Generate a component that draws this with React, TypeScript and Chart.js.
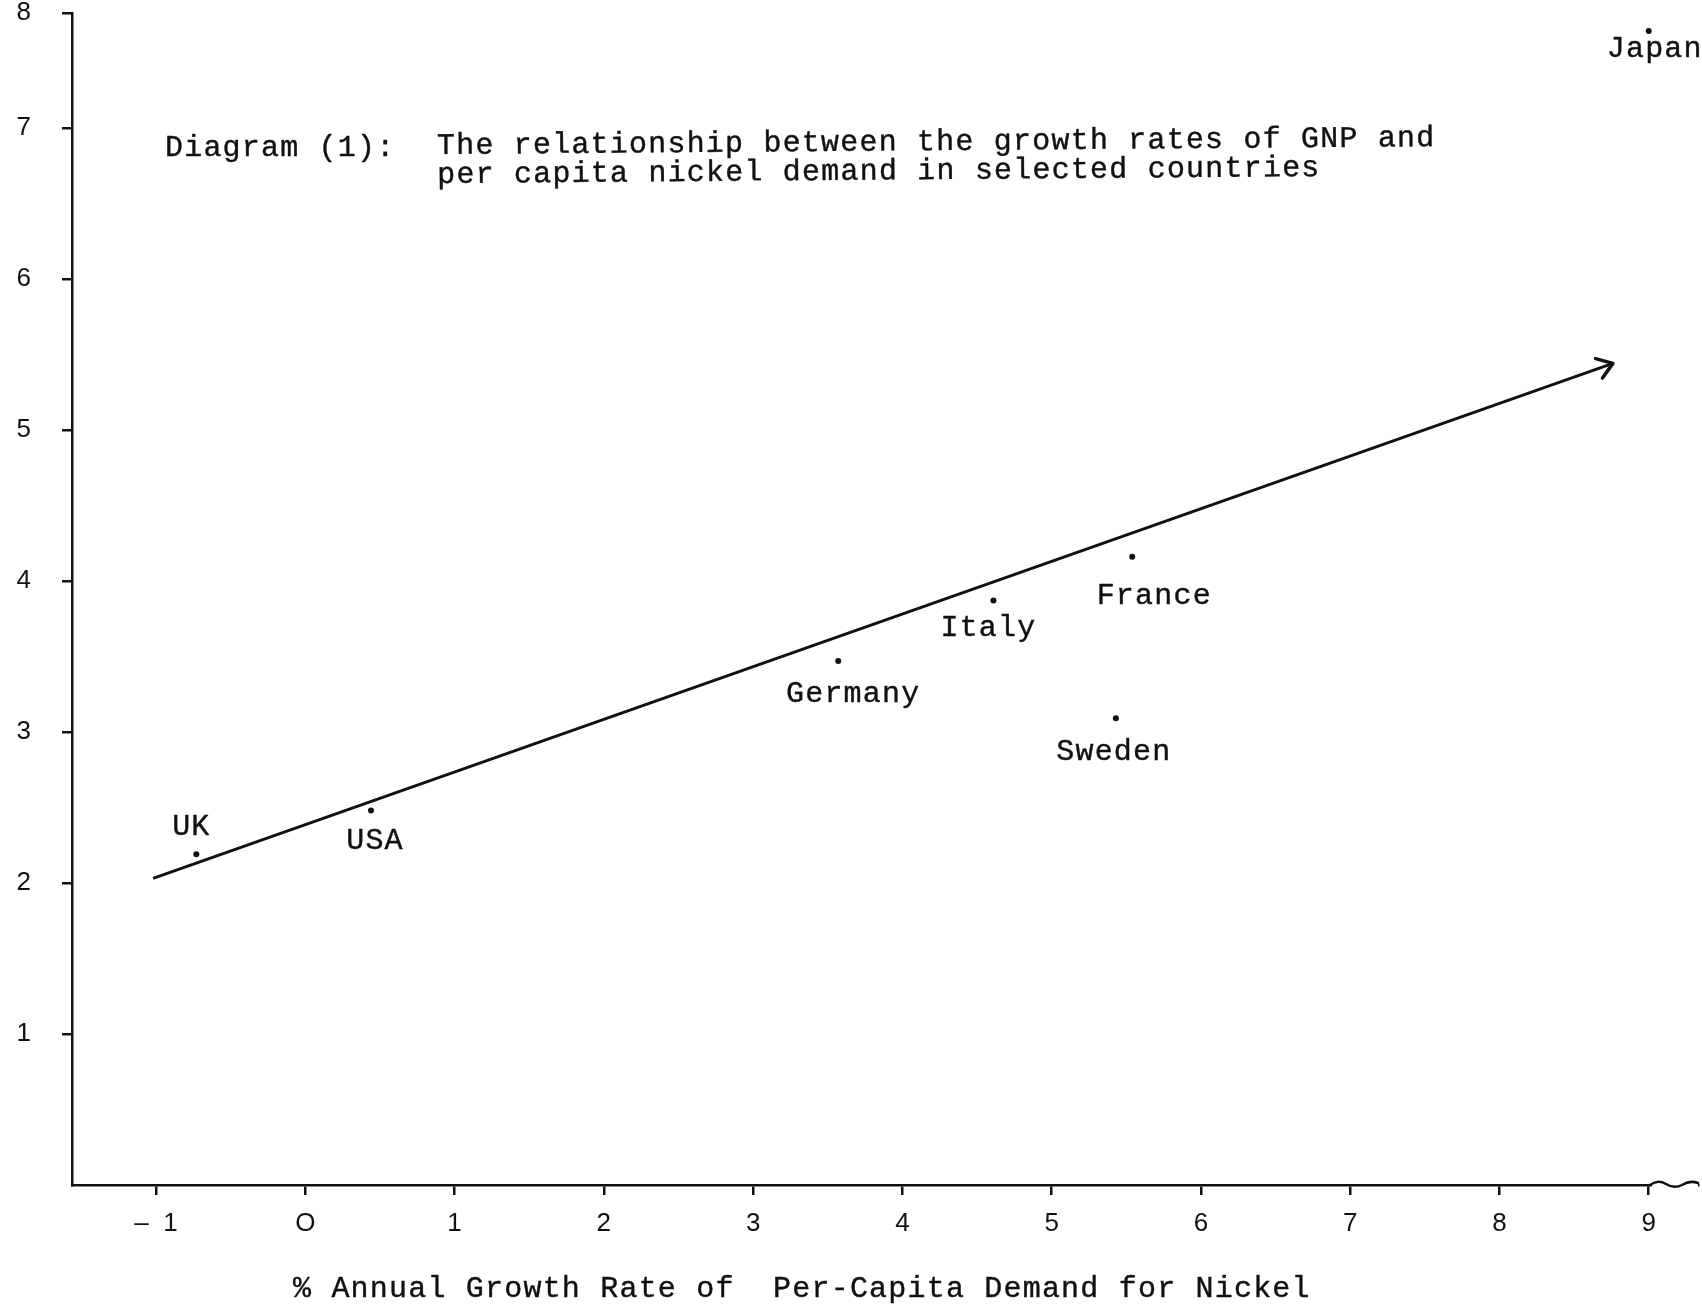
import React, { useEffect, useRef } from "react";
import { Chart, registerables } from "chart.js";

Chart.register(...registerables);

// ---------- data ----------
const countries = ["UK", "USA", "Germany", "Italy", "France", "Sweden", "Japan"];
const nickelGrowth = [-0.73, 0.44, 3.57, 4.61, 5.54, 5.43, 9.0];
const gnpGrowth = [2.19, 2.48, 3.47, 3.87, 4.16, 3.09, 7.64];

const trendX = [-1.02, 8.76];
const trendY = [2.03, 5.44];

const xTickValues = [-1, 0, 1, 2, 3, 4, 5, 6, 7, 8, 9];
const xTickLabels = ["–  1", "O", "1", "2", "3", "4", "5", "6", "7", "8", "9"];
const yTickValues = [1, 2, 3, 4, 5, 6, 7, 8];
const yTickLabels = ["1", "2", "3", "4", "5", "6", "7", "8"];

const titleLabel = "Diagram (1):";
const titleLines = [
  "The relationship between the growth rates of GNP and",
  "per capita nickel demand in selected countries",
];
const xAxisTitle = "% Annual Growth Rate of  Per-Capita Demand for Nickel";

// ---------- layout / style ----------
const X_MIN = -1.563;
const X_MAX = 9.33;
const Y_MIN = 0;
const Y_MAX = 7.76;
const MONO = "'Liberation Mono', 'DejaVu Sans Mono', monospace";
const SANS = "'Liberation Sans', Arial, sans-serif";
const INK = "#111";
// label offsets (pixels from the dot to the label's baseline centre)
const labelOffsets: [number, number][] = [
  [-5, -19],
  [4, 39],
  [15, 41],
  [-5, 35],
  [22, 47],
  [-2, 42],
  [6, 26],
];

function typeText(ctx: CanvasRenderingContext2D, text: string, x: number, y: number) {
  ctx.fillText(text, x, y);
  ctx.strokeText(text, x, y);
}

const annotate = {
  id: "annotate",
  afterDraw(chart: any) {
    const ctx: CanvasRenderingContext2D = chart.ctx;
    const xs = chart.scales.x;
    const ys = chart.scales.y;
    ctx.save();
    ctx.fillStyle = INK;
    ctx.strokeStyle = INK;
    ctx.font = `30px ${MONO}`;
    (ctx as any).letterSpacing = "1.2px";
    ctx.lineWidth = 0.4;
    ctx.lineJoin = "round";

    // country labels
    ctx.textAlign = "center";
    ctx.textBaseline = "alphabetic";
    countries.forEach((name, i) => {
      const px = xs.getPixelForValue(nickelGrowth[i]);
      const py = ys.getPixelForValue(gnpGrowth[i]);
      const [dx, dy] = labelOffsets[i];
      typeText(ctx, name, px + dx, py + dy);
    });

    // diagram title
    ctx.textAlign = "left";
    typeText(ctx, titleLabel, 165, 156);
    ctx.save();
    ctx.translate(437, 154);
    ctx.rotate((-0.45 * Math.PI) / 180);
    typeText(ctx, titleLines[0], 0, 0);
    typeText(ctx, titleLines[1], 0, 29);
    ctx.restore();

    // x axis title
    typeText(ctx, xAxisTitle, 293, 1297);

    // arrow head at the end of the trend line
    const x0 = xs.getPixelForValue(trendX[0]);
    const y0 = ys.getPixelForValue(trendY[0]);
    const x1 = xs.getPixelForValue(trendX[1]);
    const y1 = ys.getPixelForValue(trendY[1]);
    const back = Math.atan2(y0 - y1, x0 - x1);
    const arm = 18;
    const spread = (35 * Math.PI) / 180;
    ctx.lineWidth = 3.5;
    ctx.lineCap = "round";
    ctx.beginPath();
    ctx.moveTo(x1 + arm * Math.cos(back + spread), y1 + arm * Math.sin(back + spread));
    ctx.lineTo(x1, y1);
    ctx.lineTo(x1 + arm * Math.cos(back - spread), y1 + arm * Math.sin(back - spread));
    ctx.stroke();

    // wavy end of the x axis
    const ay = ys.bottom;
    const ax = xs.right;
    ctx.fillStyle = "#fff";
    ctx.fillRect(ax - 46, ay - 2, 46, 5);
    ctx.lineWidth = 2.5;
    ctx.beginPath();
    ctx.moveTo(ax - 48, ay);
    ctx.quadraticCurveTo(ax - 40, ay - 6, ax - 32, ay - 1);
    ctx.quadraticCurveTo(ax - 24, ay + 4, ax - 16, ay);
    ctx.quadraticCurveTo(ax - 8, ay - 5, ax, ay - 2);
    ctx.stroke();
    ctx.restore();
  },
};

export default function App() {
  const ref = useRef<HTMLCanvasElement | null>(null);

  useEffect(() => {
    if (!ref.current) return;
    const chart = new Chart(ref.current, {
      type: "scatter",
      data: {
        datasets: [
          {
            label: "Trend",
            data: trendX.map((x, i) => ({ x, y: trendY[i] })),
            showLine: true,
            borderColor: INK,
            borderWidth: 3,
            pointRadius: 0,
            fill: false,
          },
          {
            label: "Countries",
            data: nickelGrowth.map((x, i) => ({ x, y: gnpGrowth[i] })),
            pointRadius: 3,
            pointBackgroundColor: INK,
            pointBorderWidth: 0,
            borderColor: INK,
          },
        ],
      },
      options: {
        animation: false,
        responsive: true,
        maintainAspectRatio: false,
        layout: { padding: { top: 13, right: 4, left: 0, bottom: 0 } },
        plugins: { legend: { display: false }, tooltip: { enabled: false } },
        scales: {
          x: {
            type: "linear",
            min: X_MIN,
            max: X_MAX,
            afterBuildTicks: (scale: any) => {
              scale.ticks = xTickValues.map((v) => ({ value: v }));
            },
            afterFit: (scale: any) => {
              scale.height = 123;
              scale.paddingLeft = 0;
              scale.paddingRight = 0;
            },
            ticks: {
              autoSkip: false,
              maxRotation: 0,
              padding: 13,
              color: INK,
              font: { family: SANS, size: 26 },
              callback: (_v: any, i: number) => xTickLabels[i],
            },
            grid: {
              drawOnChartArea: false,
              drawTicks: true,
              tickLength: 10,
              color: INK,
              lineWidth: 2.5,
            },
            border: { display: true, color: INK, width: 2.5 },
          },
          y: {
            type: "linear",
            min: Y_MIN,
            max: Y_MAX,
            afterBuildTicks: (scale: any) => {
              scale.ticks = yTickValues.map((v) => ({ value: Math.min(v, Y_MAX) }));
            },
            afterFit: (scale: any) => {
              scale.width = 72;
              scale.paddingTop = 0;
              scale.paddingBottom = 0;
            },
            ticks: {
              autoSkip: false,
              padding: 31,
              color: INK,
              font: { family: SANS, size: 26 },
              callback: (_v: any, i: number) => yTickLabels[i],
            },
            grid: {
              drawOnChartArea: false,
              drawTicks: true,
              tickLength: 10,
              color: INK,
              lineWidth: 2.5,
            },
            border: { display: true, color: INK, width: 2.5 },
          },
        },
      },
      plugins: [annotate],
    });
    return () => chart.destroy();
  }, []);

  return (
    <div
      style={{
        position: "absolute",
        left: 0,
        top: 0,
        width: "1702px",
        height: "1308px",
        overflow: "hidden",
        background: "#fff",
      }}
    >
      <canvas ref={ref} />
    </div>
  );
}
